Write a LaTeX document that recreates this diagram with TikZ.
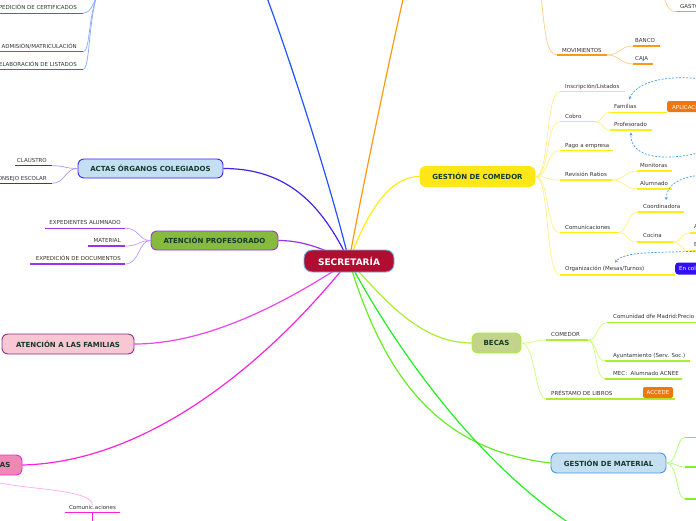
\documentclass[tikz,border=0pt]{standalone}
\usepackage{fontspec}
\setmainfont{DejaVu Sans}
\usetikzlibrary{arrows.meta,backgrounds}
\definecolor{txt}{HTML}{333333}
\definecolor{dk}{HTML}{153A2C}
\definecolor{secfill}{HTML}{B00E30}
\definecolor{secbd}{HTML}{6FB0E6}
\definecolor{cblue}{HTML}{2255FF}
\definecolor{cbluel}{HTML}{88AAFF}
\definecolor{cblueu}{HTML}{3366FF}
\definecolor{corg}{HTML}{FF9911}
\definecolor{corgl}{HTML}{FFCC88}
\definecolor{cyel}{HTML}{FFEE11}
\definecolor{cyell}{HTML}{FFF080}
\definecolor{cyelfill}{HTML}{FFE617}
\definecolor{cind}{HTML}{4422EE}
\definecolor{cindl}{HTML}{AA99FF}
\definecolor{actfill}{HTML}{C4DFF2}
\definecolor{cpur}{HTML}{9933EE}
\definecolor{cpurl}{HTML}{C099FF}
\definecolor{proffill}{HTML}{86BB40}
\definecolor{cfam}{HTML}{EE44EE}
\definecolor{famfill}{HTML}{F9C6D3}
\definecolor{fambd}{HTML}{883388}
\definecolor{cmag}{HTML}{FF22DD}
\definecolor{cmagl}{HTML}{FFAAEE}
\definecolor{asfill}{HTML}{EE88B4}
\definecolor{clime}{HTML}{AAEE33}
\definecolor{climel}{HTML}{CCFF77}
\definecolor{becfill}{HTML}{C3D48A}
\definecolor{cgrn}{HTML}{66EE22}
\definecolor{cgrnu}{HTML}{88EE22}
\definecolor{cgrnl}{HTML}{AAFF77}
\definecolor{matbd}{HTML}{4499DD}
\definecolor{cgrntwo}{HTML}{22EE22}
\definecolor{orbox}{HTML}{EE7711}
\definecolor{bluebox}{HTML}{3311EE}
\definecolor{cdash}{HTML}{4499EE}
\newcommand\ulin[5]{\coordinate (#1l) at (#2,#4); \coordinate (#1r) at (#3,#4); \draw[ul,#5] (#1l) -- (#1r);}
\newcommand\labw[4]{\node[lbl, anchor=base west] (#1) at (#2,#3) {#4};}
\newcommand\labe[4]{\node[lbl, anchor=base east] (#1) at (#2,#3) {#4};}
\begin{document}
\begin{tikzpicture}[x=1pt,y=-1pt,
  lbl/.style={font=\fontsize{5.5}{6}\selectfont, text=txt, inner sep=0pt},
  ul/.style={line width=1.3pt},
  cn/.style={line width=0.7pt},
  br/.style={line width=1.2pt},
  mainbox/.style={rounded corners=6pt, line width=0.9pt, font=\fontsize{7}{8}\selectfont\bfseries, text=dk, inner sep=0pt, minimum height=19pt},
  tagbox/.style={rounded corners=2pt, inner sep=0pt, font=\fontsize{5.5}{6}\selectfont, text=white, minimum height=11pt},
  dashar/.style={draw=cdash, line width=0.7pt, dash pattern=on 2pt off 1.5pt, -{Stealth[length=3pt,width=3pt]}},
]
\useasboundingbox (0,0) rectangle (696,520);
\clip (0,0) rectangle (696,520);

% ---------- main nodes ----------
\node[mainbox, fill=secfill, draw=secbd, text=white, minimum width=90pt, minimum height=22pt, rounded corners=8pt, font=\fontsize{9}{10}\selectfont\bfseries] (sec) at (349,261) {SECRETARÍA};
\node[mainbox, fill=actfill, draw=cind, minimum width=145pt] (act) at (150.5,168.5) {ACTAS ÓRGANOS COLEGIADOS};
\node[mainbox, fill=proffill, draw=cpur, minimum width=127pt] (prof) at (214.5,240.5) {ATENCIÓN PROFESORADO};
\node[mainbox, fill=famfill, draw=fambd, minimum width=132pt, minimum height=20pt] (fam) at (68,344) {ATENCIÓN A LAS FAMILIAS};
\node[mainbox, fill=asfill, draw=cmag, minimum width=80pt, minimum height=20pt] (as) at (-18,465) {};
\node[font=\fontsize{7}{8}\selectfont\bfseries, text=dk, inner sep=0pt, anchor=east] (astx) at (10.5,465) {AS};
\node[mainbox, fill=cyelfill, draw=cyelfill, minimum width=115pt, minimum height=20pt] (com) at (477.5,176.5) {GESTIÓN DE COMEDOR};
\node[mainbox, fill=becfill, draw=clime, minimum width=49pt, minimum height=20pt] (bec) at (496.5,343) {BECAS};
\node[mainbox, fill=actfill, draw=matbd, minimum width=115pt, minimum height=20pt] (mat) at (608.5,463) {GESTIÓN DE MATERIAL};

% ---------- free ends ----------
\coordinate (topb) at (266,-5);
\coordinate (topo) at (404,-5);
\coordinate (gbot) at (572,525);

% ---------- main branches ----------
\begin{scope}[on background layer]
\draw[br,cblue] (sec.center) .. controls (332,190) and (292,65) .. (topb);
\draw[br,corg] (sec.center) .. controls (362,190) and (387,70) .. (topo);
\draw[br,cyel] (sec.center) .. controls (368,210) and (390,176.5) .. (com.west);
\draw[br,cind] (sec.center) .. controls (322,205) and (288,168.5) .. (act.east);
\draw[br,cpur] (sec.center) .. controls (325,250) and (305,240.5) .. (prof.east);
\draw[br,cfam] (sec.center) .. controls (290,300) and (210,344) .. (fam.east);
\draw[br,cmag] (sec.center) .. controls (270,360) and (150,462) .. (as.east);
\draw[br,clime] (sec.center) .. controls (385,300) and (420,343) .. (bec.west);
\draw[br,cgrn] (sec.center) .. controls (385,380) and (440,450) .. (mat.west);
\draw[br,cgrntwo] (sec.center) .. controls (380,320) and (460,450) .. (gbot);
\end{scope}

% ---------- blue branch children ----------
\coordinate (bt) at (97,-5);
\ulin{e1}{-5}{83}{13.3}{cblueu}
\ulin{e2}{-5}{83}{51.7}{cblueu}
\ulin{e3}{-5}{83}{69.3}{cblueu}
\labe{t1}{77}{9.8}{EXPEDICIÓN DE CERTIFICADOS}
\labe{t2}{77}{48.3}{ADMISIÓN/MATRICULACIÓN}
\labe{t3}{77}{66}{ELABORACIÓN DE LISTADOS}
\draw[cn,cbluel] (e1r) .. controls (90,13.3) and (93,5) .. (bt);
\draw[cn,cbluel] (e2r) .. controls (90,51.7) and (88,20) .. (bt);
\draw[cn,cbluel] (e3r) .. controls (90,69.3) and (88,25) .. (bt);

% ---------- actas children ----------
\ulin{a1}{15}{52}{165.7}{cind}
\ulin{a2}{-5}{52}{183.3}{cind}
\labe{cla}{47}{162.3}{CLAUSTRO}
\labe{cons}{47}{180}{CONSEJO ESCOLAR}
\draw[cn,cindl] (a1r) .. controls (65,165.7) and (65,168.5) .. (act.west);
\draw[cn,cindl] (a2r) .. controls (65,183.3) and (65,168.5) .. (act.west);

% ---------- profesorado children ----------
\ulin{p1}{45}{125}{228.3}{cpur}
\ulin{p2}{88}{125}{246}{cpur}
\ulin{p3}{30}{125}{264}{cpur}
\labe{exa}{121}{224.8}{EXPEDIENTES ALUMNADO}
\labe{mtl}{121}{242.5}{MATERIAL}
\labe{exd}{121}{260.5}{EXPEDICIÓN DE DOCUMENTOS}
\draw[cn,cpurl] (p1r) .. controls (140,228.3) and (138,240.5) .. (prof.west);
\draw[cn,cpurl] (p2r) .. controls (140,246) and (138,240.5) .. (prof.west);
\draw[cn,cpurl] (p3r) .. controls (140,264) and (138,240.5) .. (prof.west);

% ---------- AS child ----------
\node[lbl, anchor=base] (comm) at (92.5,509.3) {Comunic.aciones};
\ulin{cm}{65}{120}{512.7}{cmag}
\coordinate (cmdown) at (92.5,525);
\coordinate (cmmid) at (92.5,513);
\draw[line width=0.9pt,cmag] (cmmid) -- (cmdown);
\draw[cn,cmagl] (as.south) .. controls (-10,490) and (93,486) .. (comm.north);

% ---------- orange branch children ----------
\coordinate (oc) at (541,-5);
\coordinate (gc) at (663,-5);
\ulin{mv}{557}{607}{55}{corg}
\ulin{bk}{633}{660}{46}{corg}
\ulin{cj}{633}{653}{64}{corg}
\ulin{gs}{676}{700}{11.7}{corg}
\labw{mov}{562}{52}{MOVIMIENTOS}
\labw{ban}{635}{42.6}{BANCO}
\labw{caj}{635}{60.6}{CAJA}
\labw{gas}{680}{8}{GASTOS}
\draw[cn,corgl] (mvl) .. controls (547,55) and (545,35) .. (oc);
\draw[cn,corgl] (mvr) .. controls (620,55) and (620,46) .. (bkl);
\draw[cn,corgl] (mvr) .. controls (620,55) and (620,64) .. (cjl);
\draw[cn,corgl] (gsl) .. controls (668,11.7) and (667,5) .. (gc);

% ---------- comedor children ----------
\ulin{ins}{560}{625}{91.7}{cyel}
\ulin{cob}{560}{595}{121.7}{cyel}
\ulin{fa}{610}{667}{112.3}{cyel}
\ulin{pr}{610}{652}{130}{cyel}
\ulin{pag}{560}{613}{150.7}{cyel}
\ulin{rv}{560}{612}{180}{cyel}
\ulin{mo}{637}{672}{171}{cyel}
\ulin{al}{637}{672}{189}{cyel}
\ulin{co}{638}{684}{212}{cyel}
\ulin{cmx}{560}{618}{232.5}{cyel}
\ulin{ck}{637}{673}{242}{cyel}
\ulin{aa}{690}{700}{233}{cyel}
\ulin{ee}{690}{700}{251}{cyel}
\ulin{org}{560}{675}{275}{cyel}
\labw{tins}{565}{88.5}{Inscripción/Listados}
\labw{tcob}{565}{118}{Cobro}
\labw{tfa}{614}{108.6}{Familias}
\labw{tpr}{614}{126.5}{Profesorado}
\labw{tpag}{565}{147.3}{Pago a empresa}
\labw{trv}{565}{176.5}{Revisión Ratios}
\labw{tmo}{640}{167.5}{Monitoras}
\labw{tal}{640}{185.5}{Alumnado}
\labw{tco}{643}{208.5}{Coordinadora}
\labw{tcm}{565}{229.3}{Comunicaciones}
\labw{tck}{643}{237.5}{Cocina}
\labw{taa}{694}{228.5}{A}
\labw{tee}{694}{246.5}{E}
\labw{torg}{565}{270.8}{Organización (Mesas/Turnos)}
\node[tagbox, fill=orbox, anchor=west, inner xsep=5pt] (apl) at (667,106.5) {APLICACIÓN};
\node[tagbox, fill=bluebox, anchor=west, inner xsep=4pt, minimum height=12pt, rounded corners=3pt] (enc) at (675,268.5) {En colaboración};
\foreach \t/\yy in {ins/91.7,cob/121.7,pag/150.7,rv/180,cmx/232.5,org/275}{
  \draw[cn,cyell] (com.east) .. controls (550,176.5) and (545,\yy) .. (\t l);
}
\draw[cn,cyell] (cobr) .. controls (603,121.7) and (602,112.3) .. (fal);
\draw[cn,cyell] (cobr) .. controls (603,121.7) and (602,130) .. (prl);
\draw[cn,cyell] (rvr) .. controls (625,180) and (624,171) .. (mol);
\draw[cn,cyell] (rvr) .. controls (625,180) and (624,189) .. (all);
\draw[cn,cyell] (cmxr) .. controls (628,232.5) and (627,212) .. (col);
\draw[cn,cyell] (cmxr) .. controls (628,232.5) and (627,242) .. (ckl);
\draw[cn,cyell] (ckr) .. controls (681,242) and (681,233) .. (aal);
\draw[cn,cyell] (ckr) .. controls (681,242) and (681,251) .. (eel);

% dashed arrows
\coordinate (d1s) at (702,79);  \coordinate (d1e) at (629,99.5);
\coordinate (d2s) at (702,152); \coordinate (d2e) at (631,132.5);
\coordinate (d3s) at (702,175); \coordinate (d3e) at (666,200);
\coordinate (d4s) at (702,251); \coordinate (d4e) at (615,262.5);
\draw[dashar] (d1s) .. controls (670,75) and (638,80) .. (d1e);
\draw[dashar] (d2s) .. controls (665,162) and (630,158) .. (d2e);
\draw[dashar] (d3s) .. controls (680,177) and (667,184) .. (d3e);
\draw[dashar] (d4s) .. controls (655,253) and (625,251) .. (d4e);

% ---------- becas children ----------
\ulin{bc}{546}{588}{340}{clime}
\ulin{bp}{546}{675}{399}{clime}
\ulin{bq}{607}{700}{322.7}{clime}
\ulin{bw}{605}{690}{361}{clime}
\ulin{bz}{605}{682}{379}{clime}
\labw{tbc}{551}{336.5}{COMEDOR}
\labw{tbp}{551}{395.5}{PRÉSTAMO DE LIBROS}
\labw{tbq}{613}{318.5}{Comunidad dfe Madrid:Precio Reducido}
\labw{tbw}{613}{357.5}{Ayuntamiento (Serv. Soc.)}
\labw{tbz}{613}{375.5}{MEC:\ \ Alumnado ACNEE}
\node[tagbox, fill=orbox, minimum width=30pt] (acc) at (658,392.5) {ACCEDE};
\draw[cn,climel] (bec.east) .. controls (535,343) and (535,340) .. (bcl);
\draw[cn,climel] (bec.east) .. controls (535,343) and (535,399) .. (bpl);
\draw[cn,climel] (bcr) .. controls (598,340) and (597,322.7) .. (bql);
\draw[cn,climel] (bcr) .. controls (597,340) and (595,361) .. (bwl);
\draw[cn,climel] (bcr) .. controls (597,340) and (595,379) .. (bzl);

% ---------- material children ----------
\ulin{ma}{685}{700}{437.5}{cgrnu}
\ulin{mb}{685}{700}{467}{cgrnu}
\ulin{mc}{685}{700}{499}{cgrnu}
\draw[cn,cgrnl] (mat.east) .. controls (678,463) and (676,437.5) .. (mal);
\draw[cn,cgrnl] (mat.east) .. controls (678,463) and (676,467) .. (mbl);
\draw[cn,cgrnl] (mat.east) .. controls (678,463) and (676,499) .. (mcl);
\end{tikzpicture}
\end{document}
